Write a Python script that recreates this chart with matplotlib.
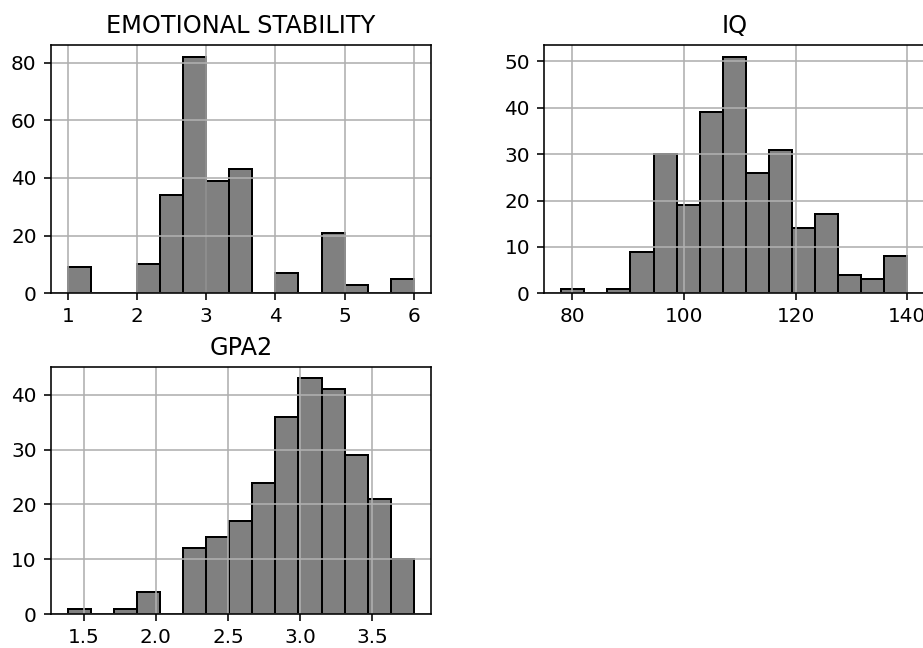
import numpy as np
import matplotlib
matplotlib.use("Agg")
import matplotlib.pyplot as plt

# Histogram data (counts per bin, 15 bins each)
es_range = (1.0, 6.0)
es_counts = [9, 0, 0, 10, 34, 82, 39, 43, 0, 7, 0, 21, 3, 0, 5]

iq_range = (78.0, 140.0)
iq_counts = [1, 0, 1, 9, 30, 19, 39, 51, 26, 31, 14, 17, 4, 3, 8]

gpa_range = (1.39, 3.79)
gpa_counts = [1, 0, 1, 4, 0, 12, 14, 17, 24, 36, 43, 41, 29, 21, 10]

titles = ["EMOTIONAL STABILITY", "IQ", "GPA2"]

DPI = 144
W, H = 923, 648
fig = plt.figure(figsize=(W / DPI, H / DPI), dpi=DPI)


def px_axes(left, top, right, bottom):
    return fig.add_axes([left / W, 1 - bottom / H, (right - left) / W, (bottom - top) / H])


ax_es = px_axes(50.7, 45, 431, 293.3)
ax_iq = px_axes(544, 45, 924.5, 293.3)
ax_gpa = px_axes(50.7, 366.7, 431, 614)

for ax, rng, counts, title in [
    (ax_es, es_range, es_counts, titles[0]),
    (ax_iq, iq_range, iq_counts, titles[1]),
    (ax_gpa, gpa_range, gpa_counts, titles[2]),
]:
    edges = np.linspace(rng[0], rng[1], len(counts) + 1)
    ax.hist(edges[:-1], bins=edges, weights=counts, color="grey", edgecolor="black")
    ax.grid(True)
    ax.set_title(title)

ax_iq.set_xticks([80, 100, 120, 140])
ax_gpa.set_xticks([1.5, 2.0, 2.5, 3.0, 3.5])

fig.savefig("out.png", dpi=DPI)
